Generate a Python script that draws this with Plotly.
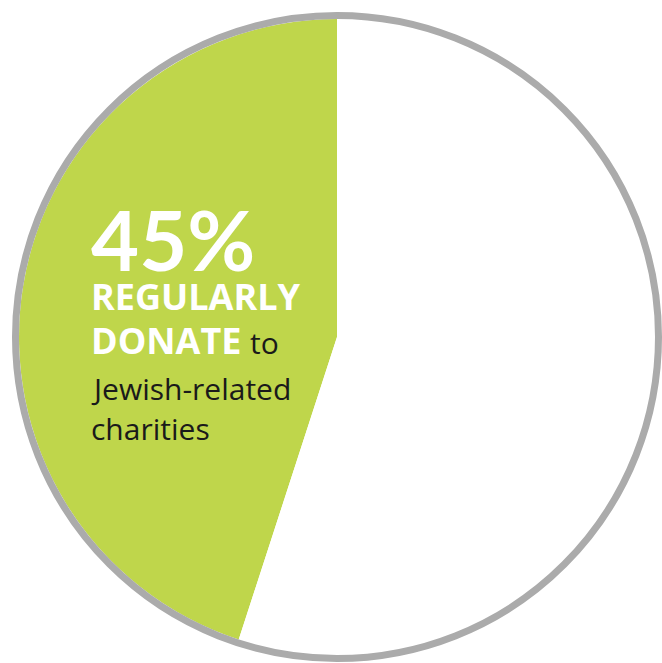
import plotly.graph_objects as go

# Share of respondents
labels = ["Regularly donate", "Other"]
values = [45, 55]
colors = ["#bfd64b", "#ffffff"]

W, H = 662, 663
CX, CY = 337, 337          # pie centre in pixels (from top-left)
R_FILL = 318               # radius of the coloured disc
RING_W = 7                 # grey outer ring thickness


def px_x(x):
    return x / W


def px_y(y):
    return 1 - y / H


# first slice ends at 12 o'clock, sweeping the left half
start_angle = -360 * values[0] / sum(values)

fig = go.Figure(
    go.Pie(
        labels=labels,
        values=values,
        sort=False,
        direction="clockwise",
        rotation=start_angle,
        marker=dict(colors=colors, line=dict(width=0)),
        textinfo="none",
        hoverinfo="label+percent",
        showlegend=False,
        domain=dict(
            x=[px_x(CX - R_FILL), px_x(CX + R_FILL)],
            y=[px_y(CY + R_FILL), px_y(CY - R_FILL)],
        ),
    )
)

# grey ring around the disc
r_ring = R_FILL + RING_W / 2
fig.add_shape(
    type="circle",
    xref="paper", yref="paper",
    x0=px_x(CX - r_ring), x1=px_x(CX + r_ring),
    y0=px_y(CY + r_ring), y1=px_y(CY - r_ring),
    line=dict(color="#ababab", width=RING_W),
    fillcolor="rgba(0,0,0,0)",
    layer="above",
)

BIG_FONT = "Lato, 'Open Sans', sans-serif"
BOLD_FONT = "'Open Sans', Lato, sans-serif"
TEXT_FONT = "'Open Sans', Lato, sans-serif"
TX = 90

# (text, baseline y px, size, colour, font, bold, x px)
lines = [
    ("45%", 270, 83, "#ffffff", BIG_FONT, True, TX),
    ("REGULARLY", 313, 36, "#ffffff", BOLD_FONT, True, TX),
    ("DONATE", 357, 36, "#ffffff", BOLD_FONT, True, TX),
    ("to", 357, 30, "#1a1a1a", TEXT_FONT, False, 249),
    ("Jewish-related", 403, 30, "#1a1a1a", TEXT_FONT, False, TX),
    ("charities", 443, 30, "#1a1a1a", TEXT_FONT, False, TX),
]

for text, base, size, col, fam, bold, x in lines:
    fig.add_annotation(
        xref="paper", yref="paper",
        x=px_x(x), y=px_y(base + 0.24 * size),
        xanchor="left", yanchor="bottom",
        text=f"<b>{text}</b>" if bold else text,
        showarrow=False,
        font=dict(family=fam, size=size, color=col),
        borderpad=0,
    )

fig.update_layout(
    width=W, height=H,
    margin=dict(l=0, r=0, t=0, b=0),
    paper_bgcolor="#ffffff",
    plot_bgcolor="#ffffff",
)

fig.write_html("out.html")
